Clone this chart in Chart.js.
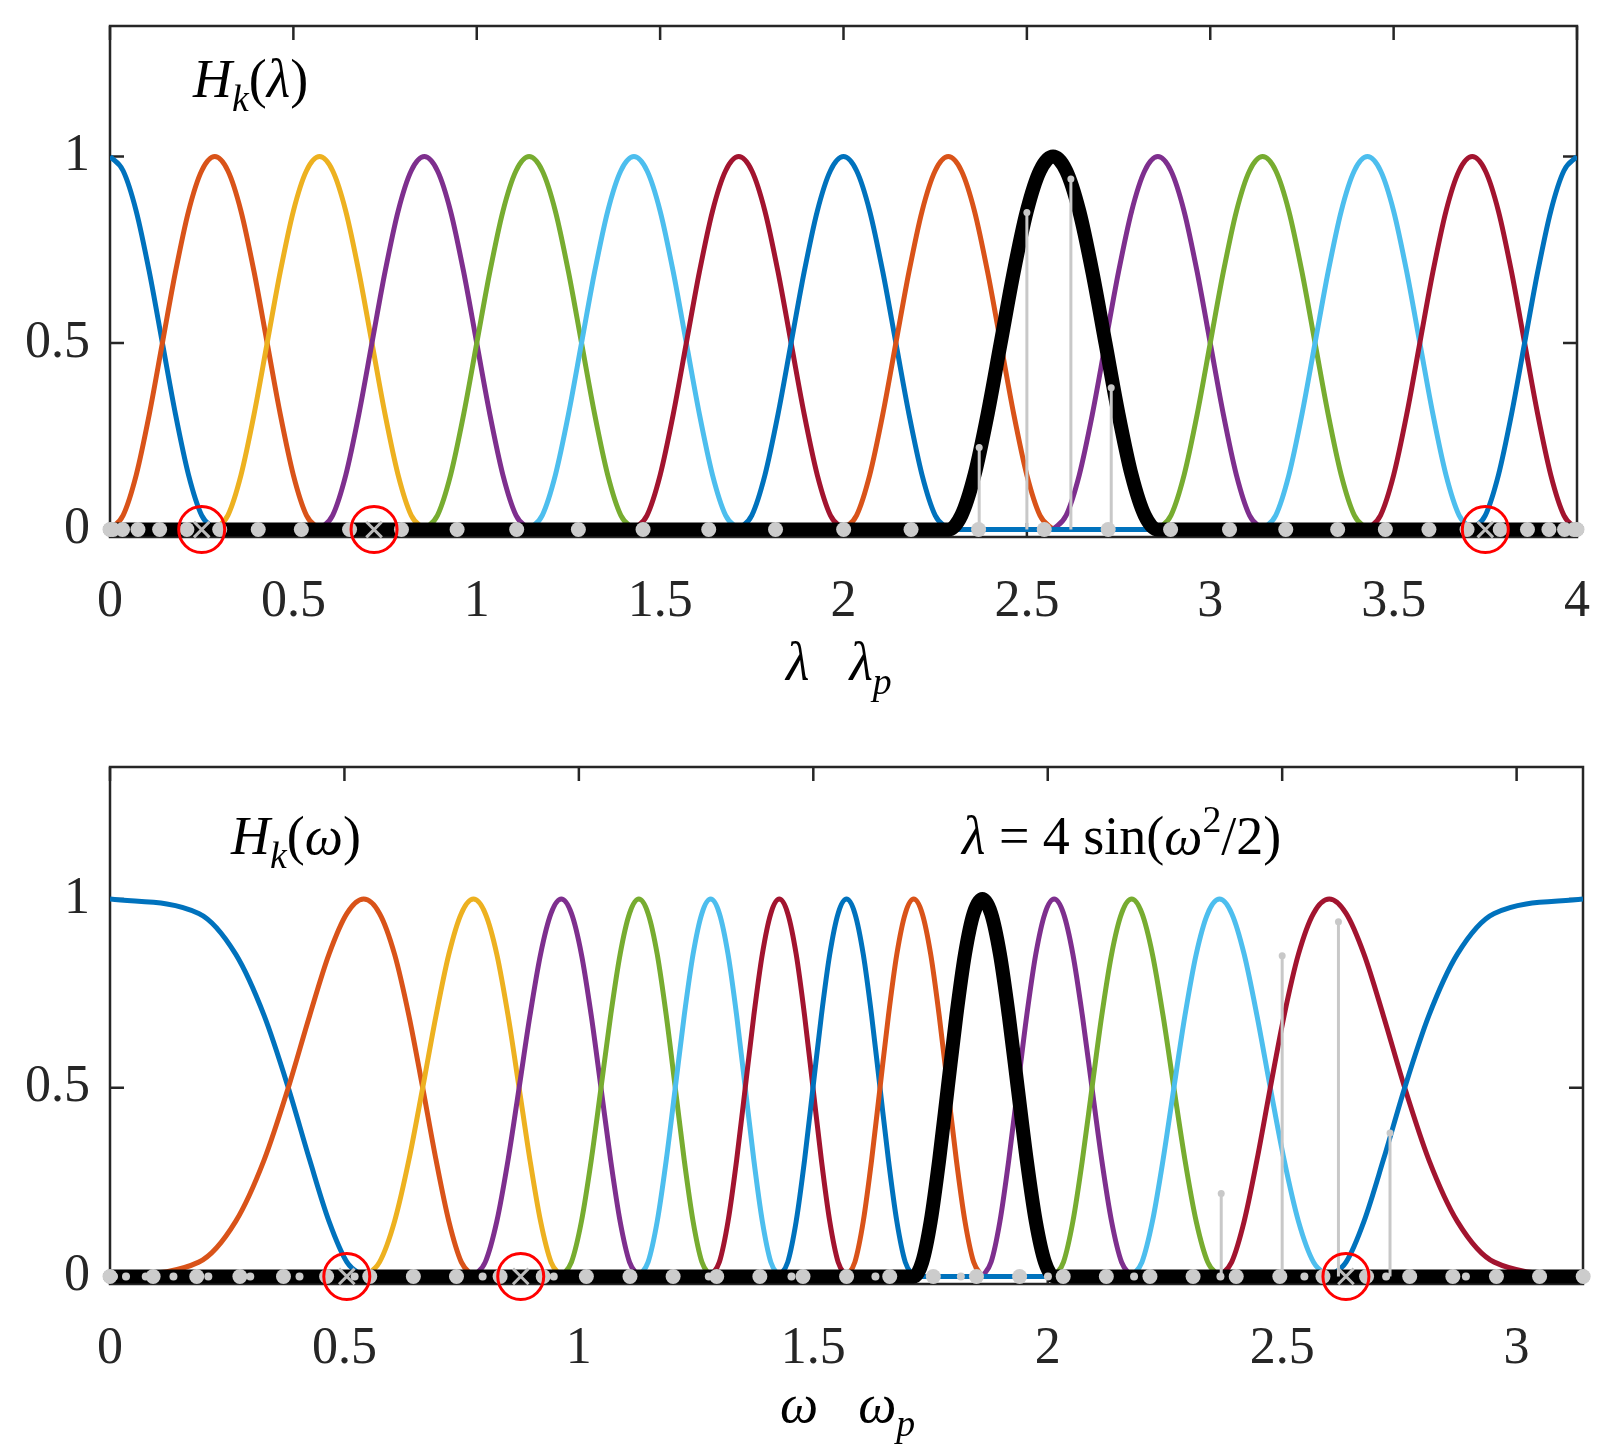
<!DOCTYPE html>
<html><head><meta charset="utf-8">
<script src="https://cdn.jsdelivr.net/npm/chart.js@4/dist/chart.umd.min.js"></script>
<style>body{margin:0;background:#fff}canvas{display:block}#w1,#w2{position:absolute;left:0;width:1616px;height:726px}#w1{top:0}#w2{top:726px}</style>
</head><body>
<div id="w1"><canvas id="c1" width="1616" height="726"></canvas></div>
<div id="w2"><canvas id="c2" width="1616" height="726"></canvas></div>
<script>
// ---- data ----
const kernelCenters = [0,0.2857,0.5714,0.8571,1.1429,1.4286,1.7143,2.0,2.2857,2.5714,2.8571,3.1429,3.4286,3.7143,4.0];
const kernelHalfWidth = 0.2857;
// kernel profile sampled at offsets 0, 1/8, ..., 1 of the half width
const kernelProfile = [1,0.962,0.854,0.691,0.5,0.309,0.146,0.038,0];
const kernelColors = ['#0072BD','#D95319','#EDB120','#7E2F8E','#77AC30','#4DBEEE','#A2142F','#0072BD','#D95319','#000000','#7E2F8E','#77AC30','#4DBEEE','#A2142F','#0072BD'];
const highlighted = 9;
const omegaP = [0,0.092,0.185,0.277,0.370,0.462,0.554,0.647,0.739,0.832,0.924,1.016,1.109,1.201,1.294,1.386,1.478,1.571,1.663,1.756,1.848,1.940,2.033,2.125,2.218,2.310,2.402,2.495,2.587,2.680,2.772,2.864,2.957,3.049,3.142];
const stemX = [2.37,2.50,2.62,2.73];
const stemH = [0.22,0.85,0.94,0.38];
const circleLambda = [0.25,0.72,3.75];
const circleOmega = [0.505,0.876,2.636];
const xTicksTop = [0,0.5,1,1.5,2,2.5,3,3.5,4];
const xTicksBot = [0,0.5,1,1.5,2,2.5,3];
const yTicks = [0,0.5,1];

// relation stated in the figure: lambda = 4 sin^2(omega/2)
const lamOf = w => 4*Math.sin(w/2)**2;
const omOf = l => 2*Math.asin(Math.sqrt(Math.min(1,Math.max(0,l/4))));
const lambdaP = omegaP.map(lamOf);

function kernelPts(c, xmap){
  const pts=[];
  const n=kernelProfile.length-1;
  for(let i=-n;i<=n;i++){
    const l=c+i/n*kernelHalfWidth;
    if(l<-1e-9||l>4+1e-9) continue;
    pts.push({x:xmap(Math.min(4,Math.max(0,l))),y:kernelProfile[Math.abs(i)]});
  }
  return pts;
}

const SERIF='"Liberation Serif","DejaVu Serif",serif';
function rich(ctx,x,y,parts,size){
  let cx=x;
  ctx.textBaseline='alphabetic';ctx.fillStyle='#000';
  for(const p of parts){
    const s=p.sub||p.sup?size*0.7:size;
    ctx.font=(p.it?'italic ':'')+s+'px '+SERIF;
    const dy=p.sub?size*0.25:(p.sup?-size*0.4:0);
    ctx.fillText(p.t,cx,y+dy);
    cx+=ctx.measureText(p.t).width+(p.gap||0);
  }
}

function build(canvasId, opts){
  const xmap=opts.xmap;
  const ds=[];
  const add=d=>{d.order=-ds.length;ds.push(d);};
  kernelCenters.forEach((c,k)=>{
    if(k===highlighted) return;
    add({data:kernelPts(c,xmap),borderColor:kernelColors[k],borderWidth:5,pointRadius:0,cubicInterpolationMode:'monotone',fill:false});
  });
  add({data:[{x:0,y:0},{x:opts.xmax,y:0}],borderColor:'#0072BD',borderWidth:5,pointRadius:0});
  const hc=kernelCenters[highlighted];
  const hp=kernelPts(hc,xmap);
  add({data:[{x:0,y:0}].concat(hp,[{x:opts.xmax,y:0}]),borderColor:'#000',borderWidth:14,pointRadius:0,cubicInterpolationMode:'monotone',borderJoinStyle:'round',borderCapStyle:'round',clip:false});
  stemX.forEach((sx,i)=>add({data:[{x:sx,y:0},{x:sx,y:stemH[i]}],borderColor:'#c8c8c8',borderWidth:3,pointRadius:[0,3.5],pointBackgroundColor:'#c8c8c8',pointBorderWidth:0}));
  if(opts.small) add({data:opts.small.map(v=>({x:v,y:0})),showLine:false,pointRadius:4,pointBackgroundColor:'#cccccc',pointBorderWidth:0,clip:false});
  add({data:opts.dots.map(v=>({x:v,y:0})),showLine:false,pointRadius:7.5,pointBackgroundColor:'#cccccc',pointBorderWidth:0,clip:false});
  add({data:opts.circles.map(v=>({x:v,y:0})),showLine:false,pointStyle:'crossRot',pointRadius:11,pointBorderColor:'#bbbbbb',pointBorderWidth:3,clip:false});
  add({data:opts.circles.map(v=>({x:v,y:0})),showLine:false,pointStyle:'circle',pointRadius:23,pointBorderColor:'#ff0000',pointBackgroundColor:'rgba(0,0,0,0)',pointBorderWidth:3,clip:false});

  const deco={id:'deco',beforeDatasetsDraw(ch){
    const ctx=ch.ctx,a=ch.chartArea,xs=ch.scales.x,ys=ch.scales.y;
    ctx.save();
    ctx.strokeStyle='#262626';ctx.lineWidth=2.5;
    ctx.strokeRect(a.left,a.top,a.right-a.left,a.bottom-a.top);
    ctx.beginPath();
    opts.xticks.forEach(v=>{const p=xs.getPixelForValue(v);ctx.moveTo(p,a.bottom);ctx.lineTo(p,a.bottom-14);ctx.moveTo(p,a.top);ctx.lineTo(p,a.top+14);});
    yTicks.forEach(v=>{const p=ys.getPixelForValue(v);ctx.moveTo(a.left,p);ctx.lineTo(a.left+14,p);ctx.moveTo(a.right,p);ctx.lineTo(a.right-14,p);});
    ctx.stroke();
    opts.texts(ctx);
    ctx.restore();
  }};
  return new Chart(document.getElementById(canvasId),{
    type:'line',
    data:{datasets:ds},
    options:{responsive:false,animation:false,events:[],
      layout:{padding:{left:0,right:33,top:opts.top,bottom:0}},
      plugins:{legend:{display:false},tooltip:{enabled:false}},
      scales:{
        x:{type:'linear',min:0,max:opts.xmax,grid:{display:false},border:{display:false},
          afterBuildTicks:s=>{s.ticks=opts.xticks.map(v=>({value:v}));},
          ticks:{font:{family:SERIF,size:52},color:'#262626',padding:26,maxRotation:0,autoSkip:false,callback:v=>String(v)},
          afterFit:s=>{s.height=opts.xh;s.paddingTop=0;}},
        y:{type:'linear',min:-0.02,max:1.35,grid:{display:false},border:{display:false},
          afterBuildTicks:s=>{s.ticks=yTicks.map(v=>({value:v}));},
          ticks:{font:{family:SERIF,size:52,lineHeight:0.1},color:'#262626',padding:12,callback:v=>String(v)},
          afterFit:s=>{s.width=110;s.paddingTop=0;s.paddingBottom=0;}}
      }},
    plugins:[deco]
  });
}

build('c1',{xmap:l=>l,xmax:4,xticks:xTicksTop,top:20,xh:189,dots:lambdaP,circles:circleLambda,
  texts:ctx=>{
    rich(ctx,193,97,[{t:'H',it:1},{t:'k',it:1,sub:1},{t:'(',},{t:'λ',it:1},{t:')'}],54);
    rich(ctx,786,680,[{t:'λ',it:1,gap:40},{t:'λ',it:1},{t:'p',it:1,sub:1}],54);
  }});
build('c2',{xmap:omOf,xmax:Math.PI,xticks:xTicksBot,top:41,xh:168,dots:omegaP,small:lambdaP.filter(v=>v<=Math.PI),circles:circleOmega,
  texts:ctx=>{
    rich(ctx,231,128,[{t:'H',it:1},{t:'k',it:1,sub:1},{t:'(',},{t:'ω',it:1},{t:')'}],54);
    rich(ctx,962,128,[{t:'λ',it:1},{t:' = 4 sin('},{t:'ω',it:1},{t:'2',sup:1},{t:'/2)'}],54);
    rich(ctx,780,696,[{t:'ω',it:1,gap:40},{t:'ω',it:1},{t:'p',it:1,sub:1}],54);
  }});
</script>
</body></html>
